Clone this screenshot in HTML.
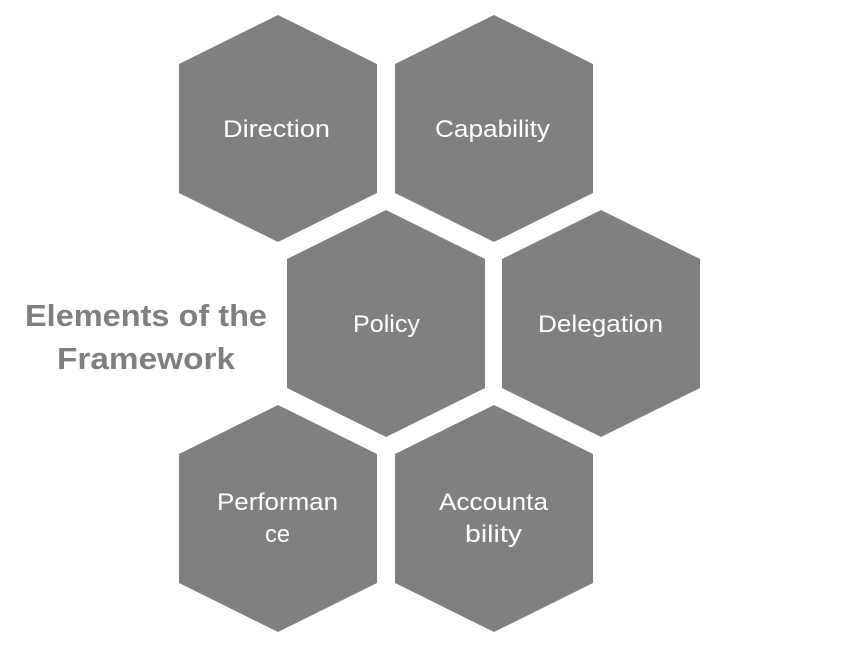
<!DOCTYPE html>
<html><head><meta charset="utf-8"><style>
html,body{margin:0;padding:0;background:#fff;}
svg{display:block;}
</style></head><body>
<svg width="856" height="647" viewBox="0 0 856 647" xmlns="http://www.w3.org/2000/svg">
<defs>
<polygon id="h" points="99,0 198,49 198,178 99,227 0,178 0,49" fill="#808080"/>
</defs>
<use href="#h" x="179" y="15"/>
<use href="#h" x="395" y="15"/>
<use href="#h" x="287" y="210"/>
<use href="#h" x="502" y="210"/>
<use href="#h" x="179" y="405"/>
<use href="#h" x="395" y="405"/>
<g font-family="Liberation Sans, sans-serif" font-size="24" fill="#fff" lengthAdjust="spacingAndGlyphs">
<text x="223" y="137" textLength="107" lengthAdjust="spacingAndGlyphs">Direction</text>
<text x="435" y="137" textLength="115" lengthAdjust="spacingAndGlyphs">Capability</text>
<text x="353" y="332" textLength="67" lengthAdjust="spacingAndGlyphs">Policy</text>
<text x="538" y="332" textLength="125" lengthAdjust="spacingAndGlyphs">Delegation</text>
<text x="217" y="510" textLength="121" lengthAdjust="spacingAndGlyphs">Performan</text>
<text x="265" y="542" textLength="25" lengthAdjust="spacingAndGlyphs">ce</text>
<text x="439" y="510" textLength="109" lengthAdjust="spacingAndGlyphs">Accounta</text>
<text x="465" y="542" textLength="57" lengthAdjust="spacingAndGlyphs">bility</text>
</g>
<g font-family="Liberation Sans, sans-serif" font-size="31" font-weight="bold" fill="#7f7f7f" text-anchor="middle">
<text x="146" y="326" textLength="242" lengthAdjust="spacingAndGlyphs">Elements of the</text>
<text x="146" y="369" textLength="178" lengthAdjust="spacingAndGlyphs">Framework</text>
</g>
</svg>
</body></html>
